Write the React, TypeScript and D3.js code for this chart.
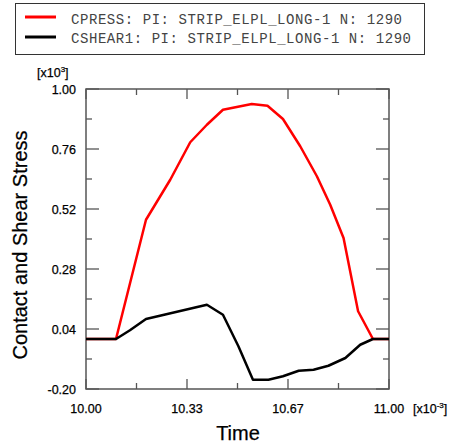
import React from "react";
import * as d3 from "d3";

const cpressTime = [10.0, 10.099, 10.198, 10.278, 10.344, 10.399, 10.452, 10.547, 10.599, 10.65, 10.707, 10.762, 10.806, 10.85, 10.898, 10.947, 11.0];
const cpressValue = [0.0, 0.0, 0.477, 0.637, 0.787, 0.857, 0.917, 0.94, 0.933, 0.88, 0.771, 0.651, 0.537, 0.404, 0.111, 0.0, 0.0];
const cshearTime = [10.0, 10.099, 10.145, 10.198, 10.399, 10.452, 10.503, 10.551, 10.602, 10.65, 10.702, 10.751, 10.8, 10.856, 10.905, 10.947, 11.0];
const cshearValue = [0.0, 0.0, 0.035, 0.08, 0.137, 0.097, -0.029, -0.163, -0.163, -0.149, -0.127, -0.123, -0.107, -0.076, -0.023, 0.0, 0.0];
const yTickLabels = ["-0.20", "0.04", "0.28", "0.52", "0.76", "1.00"];
const xTickLabels = ["10.00", "10.33", "10.67", "11.00"];
const legendLabels = ["CPRESS: PI: STRIP_ELPL_LONG-1 N: 1290", "CSHEAR1: PI: STRIP_ELPL_LONG-1 N: 1290"];
const seriesColors = ["#ff0000", "#000000"];

export default function App() {
  const left = 86, right = 389, top = 89, bottom = 389;
  const x = d3.scaleLinear().domain([10, 11]).range([left, right]);
  const y = d3.scaleLinear().domain([-0.2, 1.0]).range([bottom, top]);
  const line = d3.line<[number, number]>().x(d => x(d[0])).y(d => y(d[1]));
  const cp = cpressTime.map((t, i) => [t, cpressValue[i]] as [number, number]);
  const cs = cshearTime.map((t, i) => [t, cshearValue[i]] as [number, number]);
  const yTicks = d3.range(0, 11).map(i => -0.2 + i * 0.12);
  const xTicks = d3.range(0, 7).map(i => 10 + i / 6);
  const frame = "#555";
  const font = "'Liberation Sans', Arial, sans-serif";
  const ink = { fill: "#000", stroke: "#000", strokeWidth: 0.25 };
  return (
    <svg width={454} height={445} style={{ position: "absolute", left: 0, top: 0, background: "#fff" }}>
      <rect x={15.5} y={3.5} width={409} height={51} fill="#fff" stroke="#333" strokeWidth={1} />
      {legendLabels.map((l, i) => (
        <g key={l}>
          <line x1={25} x2={56} y1={17 + i * 20} y2={17 + i * 20} stroke={seriesColors[i]} strokeWidth={3} />
          <text x={71} y={23.5 + i * 19.5} fontFamily="'Liberation Mono', 'Courier New', monospace" fontSize={14} fill="#444"
            textLength={l.length * 9 - 2} lengthAdjust="spacing">{l}</text>
        </g>
      ))}
      {yTicks.map((v, i) => {
        const major = i % 2 === 0;
        const len = major ? 13 : 6;
        return (
          <g key={"y" + i}>
            <line x1={left} x2={left + len} y1={y(v)} y2={y(v)} stroke={frame} strokeWidth={1.3} />
            <line x1={right} x2={right - len} y1={y(v)} y2={y(v)} stroke={frame} strokeWidth={1.3} />
          </g>
        );
      })}
      {xTicks.map((v, i) => {
        const major = i % 2 === 0;
        const len = major ? 10 : 6;
        return (
          <g key={"x" + i}>
            <line x1={x(v)} x2={x(v)} y1={bottom} y2={bottom - len} stroke={frame} strokeWidth={1.3} />
            <line x1={x(v)} x2={x(v)} y1={top} y2={top + len} stroke={frame} strokeWidth={1.3} />
          </g>
        );
      })}
      <rect x={left} y={top} width={right - left} height={bottom - top} fill="none" stroke={frame} strokeWidth={1.5} />
      <path d={line(cp) || ""} fill="none" stroke={seriesColors[0]} strokeWidth={2.5} strokeLinejoin="round" />
      <path d={line(cs) || ""} fill="none" stroke={seriesColors[1]} strokeWidth={2.5} strokeLinejoin="round" />
      {yTickLabels.map((l, i) => (
        <text key={l} x={76} y={y(-0.2 + i * 0.24) + 4.5} textAnchor="end" fontFamily={font} fontSize={12.5} {...ink}>{l}</text>
      ))}
      <text x={37} y={77} fontFamily={font} fontSize={12.5} {...ink}>[x10<tspan dy={-5} fontSize={8}>3</tspan><tspan dy={5}>]</tspan></text>
      {xTickLabels.map((l, i) => (
        <text key={l} x={x(10 + i / 3)} y={413} textAnchor="middle" fontFamily={font} fontSize={12.5} {...ink}>{l}</text>
      ))}
      <text x={413} y={413} fontFamily={font} fontSize={12.5} {...ink}>[x10<tspan dy={-5} fontSize={8}>-3</tspan><tspan dy={5}>]</tspan></text>
      <text transform="translate(27,245) rotate(-90)" textAnchor="middle" fontFamily={font} fontSize={20} {...ink}>Contact and Shear Stress</text>
      <text x={238} y={440} textAnchor="middle" fontFamily={font} fontSize={20} {...ink}>Time</text>
    </svg>
  );
}
